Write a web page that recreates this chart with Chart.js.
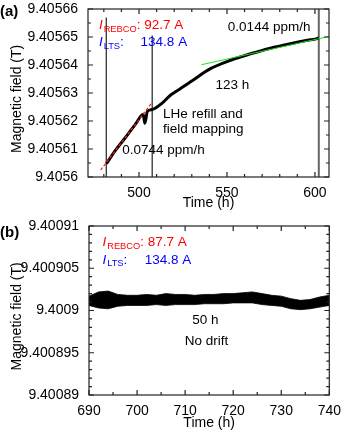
<!DOCTYPE html>
<html>
<head>
<meta charset="utf-8">
<script src="https://cdn.jsdelivr.net/npm/chart.js@4.4.1/dist/chart.umd.min.js"></script>
<style>
    html, body { margin: 0; padding: 0; background: #fff; }
    #wrap { position: relative; width: 342px; height: 432px; overflow: hidden; }
    #wrap canvas { position: absolute; left: 0; }
    #chartA { top: 0; width: 342px; height: 216px; }
    #chartB { top: 210px; width: 342px; height: 222px; }
</style>
</head>
<body>
<div id="wrap">
    <canvas id="chartA" width="342" height="216"></canvas>
    <canvas id="chartB" width="342" height="222"></canvas>
</div>
<script>
var FONT = "'Liberation Sans', Arial, sans-serif";

// (a) field after charging, time in h, field in T
var driftTime = [481.5, 486.6, 492.3, 498.0, 502.4, 503.3, 504.8, 507.5, 513.2, 518.0, 521.0,
    529.3, 540.6, 552.0, 563.4, 574.7, 586.1, 597.4, 601.2, 602.2];
var driftField = [9.4056048, 9.4056095, 9.4056141, 9.4056189, 9.4056224, 9.4056192, 9.4056235,
    9.4056241, 9.4056264, 9.4056293, 9.4056305, 9.4056340, 9.4056387, 9.4056417, 9.4056440,
    9.4056460, 9.4056476, 9.4056490, 9.4056494, 9.4056497];

// linear fits
var fastFitTime = [478.2, 507.5];
var fastFitField = [9.4056025, 9.4056267];
var slowFitTime = [535.5, 608];
var slowFitField = [9.4056401, 9.4056502];

// disturbances (LHe refill, mapping, discharge)
var spikeTime = [481.4, 507.5, 602.2];
var spikeTop = [9.405657, 9.4056505, 9.40566];
var spikeBottom = [9.4056, 9.4056, 9.4056];

// (b) 50 h hold, noise band
var holdTime = [690, 692, 694, 696, 698, 700, 702, 704, 706, 708, 710, 712, 714, 716, 718, 720,
    722, 724, 726, 728, 730, 732, 734, 736, 738, 740];
var holdUpper = [9.4009017, 9.4009022, 9.4009023, 9.4009019, 9.4009018, 9.4009018, 9.4009019,
    9.4009018, 9.4009020, 9.4009019, 9.4009019, 9.4009018, 9.4009019, 9.4009019, 9.4009020,
    9.4009020, 9.4009021, 9.4009022, 9.4009020, 9.4009018, 9.4009017, 9.4009014, 9.4009012,
    9.4009013, 9.4009016, 9.4009018];
var holdLower = [9.4009006, 9.4009003, 9.4009002, 9.4009005, 9.4009006, 9.4009006, 9.4009006,
    9.4009007, 9.4009006, 9.4009007, 9.4009007, 9.4009007, 9.4009008, 9.4009008, 9.4009008,
    9.4009009, 9.4009009, 9.4009009, 9.4009007, 9.4009006, 9.4009005, 9.4009002, 9.4009001,
    9.4009002, 9.4009004, 9.4009006];

// tick labels
var aYTicks = [9.4056, 9.40561, 9.40562, 9.40563, 9.40564, 9.40565, 9.40566];
var aYLabels = ['9.4056', '9.40561', '9.40562', '9.40563', '9.40564', '9.40565', '9.40566'];
var aXTicks = [500, 550, 600];
var bYTicks = [9.40089, 9.400895, 9.4009, 9.400905, 9.40091];
var bYLabels = ['9.40089', '9.400895', '9.4009', '9.400905', '9.40091'];
var bXTicks = [690, 700, 710, 720, 730, 740];

// text on the plots, placed in data units
var aNotes = [
    { x: 477.2, y: 9.4056542, parts: [{ t: 'I', c: 'red', i: true }, { t: 'REBCO', c: 'red', sub: true }, { t: ': 92.7 A', c: 'red' }] },
    { x: 477.2, y: 9.4056481, parts: [{ t: 'I', c: 'blue', i: true }, { t: 'LTS', c: 'blue', sub: true }, { t: ':', c: 'blue' }] },
    { x: 500.9, y: 9.4056481, parts: [{ t: '134.8 A', c: 'blue' }] },
    { x: 550.5, y: 9.4056533, parts: [{ t: '0.0144 ppm/h' }] },
    { x: 543.5, y: 9.4056326, parts: [{ t: '123 h' }] },
    { x: 513.7, y: 9.4056225, parts: [{ t: 'LHe refill and' }] },
    { x: 513.7, y: 9.4056172, parts: [{ t: 'field mapping' }] },
    { x: 490.5, y: 9.4056095, parts: [{ t: '0.0744 ppm/h' }] }
];
var bNotes = [
    { x: 692.8, y: 9.4009081, parts: [{ t: 'I', c: 'red', i: true }, { t: 'REBCO', c: 'red', sub: true }, { t: ': 87.7 A', c: 'red' }] },
    { x: 692.8, y: 9.400906, parts: [{ t: 'I', c: 'blue', i: true }, { t: 'LTS', c: 'blue', sub: true }, { t: ':', c: 'blue' }] },
    { x: 701.6, y: 9.400906, parts: [{ t: '134.8 A', c: 'blue' }] },
    { x: 711.5, y: 9.4008989, parts: [{ t: '50 h' }] },
    { x: 709.9, y: 9.4008963, parts: [{ t: 'No drift' }] }
];

function pts(xs, ys) {
    return xs.map(function (x, i) { return { x: x, y: ys[i] }; });
}

function labelFor(majors, labels) {
    return function (value) {
        for (var i = 0; i < majors.length; i++) {
            if (Math.abs(value - majors[i]) < 1e-10) {
                return labels ? labels[i] : String(majors[i]);
            }
        }
        return '';
    };
}

// frame with inward ticks on all four sides
var framePlugin = {
    id: 'frame',
    afterDatasetsDraw: function (chart) {
        var ctx = chart.ctx, a = chart.chartArea;
        var sx = chart.scales.x, sy = chart.scales.y;
        ctx.save();
        ctx.strokeStyle = '#222';
        ctx.lineWidth = 1.2;
        ctx.beginPath();
        sx.ticks.forEach(function (t) {
            var p = sx.getPixelForValue(t.value), len = t.label ? 5 : 3;
            ctx.moveTo(p, a.bottom); ctx.lineTo(p, a.bottom - len);
            ctx.moveTo(p, a.top); ctx.lineTo(p, a.top + len);
        });
        sy.ticks.forEach(function (t) {
            var p = sy.getPixelForValue(t.value), len = t.label ? 5 : 3;
            ctx.moveTo(a.left, p); ctx.lineTo(a.left + len, p);
            ctx.moveTo(a.right, p); ctx.lineTo(a.right - len, p);
        });
        ctx.stroke();
        ctx.strokeRect(a.left, a.top, a.right - a.left, a.bottom - a.top);
        ctx.restore();
    }
};

var notesPlugin = {
    id: 'notes',
    afterDraw: function (chart, args, opts) {
        var ctx = chart.ctx;
        var sx = chart.scales.x, sy = chart.scales.y;
        ctx.save();
        ctx.textBaseline = 'middle';
        ctx.textAlign = 'left';
        (opts.items || []).forEach(function (n) {
            var x = sx.getPixelForValue(n.x), y = sy.getPixelForValue(n.y);
            n.parts.forEach(function (p) {
                var size = p.sub ? 9.3 : 13.5;
                ctx.font = (p.i ? 'italic ' : '') + size + 'px ' + FONT;
                ctx.fillStyle = p.c || '#000';
                ctx.fillText(p.t, x, y + (p.sub ? 4 : 0));
                x += ctx.measureText(p.t).width + (p.i ? 1 : 0);
            });
        });
        ctx.font = 'bold 15px ' + FONT;
        ctx.fillStyle = '#000';
        ctx.fillText(opts.panel, 0, opts.panelY);
        ctx.restore();
    }
};

function axisX(min, max, step, majors, height, titlePad) {
    return {
        type: 'linear',
        min: min,
        max: max,
        afterFit: function (s) { s.height = height; },
        grid: { display: false },
        border: { display: false },
        ticks: {
            stepSize: step,
            includeBounds: false,
            autoSkip: false,
            maxRotation: 0,
            padding: 1,
            color: '#000',
            font: { family: FONT, size: 14, lineHeight: 1 },
            callback: labelFor(majors)
        },
        title: {
            display: true,
            text: 'Time (h)',
            color: '#000',
            font: { family: FONT, size: 14, lineHeight: 1 },
            padding: { top: 0, bottom: titlePad }
        }
    };
}

function axisY(min, max, step, majors, labels, width) {
    return {
        type: 'linear',
        min: min,
        max: max,
        afterFit: function (s) { s.width = width; },
        grid: { display: false },
        border: { display: false },
        ticks: {
            stepSize: step,
            autoSkip: false,
            padding: 2,
            color: '#000',
            font: { family: FONT, size: 14, lineHeight: 1 },
            callback: labelFor(majors, labels)
        },
        title: {
            display: true,
            text: 'Magnetic field (T)   ',
            color: '#000',
            font: { family: FONT, size: 14, lineHeight: 1 },
            padding: { top: 10, bottom: 0 }
        }
    };
}

function spikeSets() {
    return spikeTime.map(function (t, i) {
        return {
            data: [{ x: t, y: spikeBottom[i] }, { x: t, y: spikeTop[i] }],
            borderColor: i === 2 ? '#666' : '#333',
            borderWidth: i === 2 ? 2 : 1.3,
            pointRadius: 0
        };
    });
}

new Chart(document.getElementById('chartA'), {
    type: 'line',
    data: {
        datasets: [
            { data: pts(slowFitTime, slowFitField), borderColor: '#22dd22', borderWidth: 1, pointRadius: 0 },
            { data: pts(fastFitTime, fastFitField), borderColor: '#ff2020', borderWidth: 1.2, borderDash: [3, 2], pointRadius: 0 },
            { data: pts(driftTime, driftField), borderColor: '#000', borderWidth: 3, pointRadius: 0, cubicInterpolationMode: 'monotone' }
        ].concat(spikeSets())
    },
    options: {
        responsive: false,
        animation: false,
        layout: { padding: { left: 0, right: 13, top: 6, bottom: 0 } },
        plugins: {
            legend: { display: false },
            tooltip: { enabled: false },
            notes: { items: aNotes, panel: '(a)', panelY: 12 }
        },
        scales: {
            x: axisX(471, 608, 10, aXTicks, 39, 6),
            y: axisY(9.4056, 9.40566, 0.000005, aYTicks, aYLabels, 88)
        }
    },
    plugins: [framePlugin, notesPlugin]
});

new Chart(document.getElementById('chartB'), {
    type: 'line',
    data: {
        datasets: [
            { data: pts(holdTime, holdUpper), borderColor: '#000', backgroundColor: '#000', borderWidth: 0.8, pointRadius: 0, fill: '+1' },
            { data: pts(holdTime, holdLower), borderColor: '#000', borderWidth: 0.8, pointRadius: 0, fill: false }
        ]
    },
    options: {
        responsive: false,
        animation: false,
        layout: { padding: { left: 0, right: 12, top: 16, bottom: 0 } },
        plugins: {
            legend: { display: false },
            tooltip: { enabled: false },
            notes: { items: bNotes, panel: '(b)', panelY: 22.5 }
        },
        scales: {
            x: axisX(690, 740, 5, bXTicks, 37, 2),
            y: axisY(9.40089, 9.40091, 0.000001, bYTicks, bYLabels, 89)
        }
    },
    plugins: [framePlugin, notesPlugin]
});
</script>
</body>
</html>
